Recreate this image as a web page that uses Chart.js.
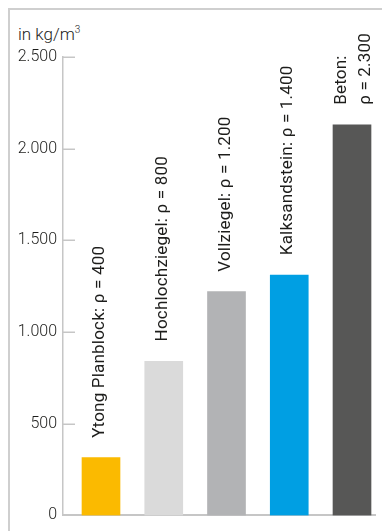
<!DOCTYPE html>
<html>
<head>
<meta charset="utf-8">
<script src="https://cdn.jsdelivr.net/npm/chart.js@4/dist/chart.umd.min.js"></script>
<style>
  html, body { margin: 0; padding: 0; background: #fff; }
  #wrap { position: relative; width: 382px; height: 531px; overflow: hidden; }
  #frame { position: absolute; left: 8px; top: 8px; width: 400px; height: 560px;
           border-left: 2px solid #cfcfcf; border-top: 2px solid #cfcfcf; box-sizing: border-box; }
  #unit { position: absolute; left: 18px; top: 24px; font-family: Roboto, sans-serif; font-weight: 300;
          font-size: 17px; color: #1d1d1b; line-height: 20px; }
  #unit sup { font-size: 10px; vertical-align: 7px; line-height: 0; }
  canvas { position: absolute; left: 0; top: 0; }
</style>
</head>
<body>
<div id="wrap">
  <div id="frame"></div>
  <div id="unit">in kg/m<sup>3</sup></div>
  <canvas id="c" width="382" height="531"></canvas>
</div>
<script>
// ---- data ----
const categories = ['Ytong Planblock', 'Hochlochziegel', 'Vollziegel', 'Kalksandstein', 'Beton'];
const rhoLabels  = ['400', '800', '1.200', '1.400', '2.300'];
const densities  = [315, 840, 1220, 1310, 2130];
const yTicks     = [0, 500, 1000, 1500, 2000, 2500];
// ---------------

const barColors = ['#FBBA00', '#DADADA', '#B2B3B5', '#009FE3', '#575756'];
const FONT = 'Roboto, sans-serif';
const TEXT = '#1d1d1b';
const AXIS = '#c6c6c6';

function fmt(v) { return String(v).replace(/\B(?=(\d{3})+(?!\d))/g, '.'); }

const labelLines = categories.map((c, i) =>
  i === categories.length - 1 ? [c + ':', 'ρ = ' + rhoLabels[i]] : [c + ': ρ = ' + rhoLabels[i]]);

const barLabels = {
  id: 'barLabels',
  afterDatasetsDraw(chart) {
    const ctx = chart.ctx;
    const meta = chart.getDatasetMeta(0);
    ctx.save();
    ctx.fillStyle = TEXT;
    ctx.font = '400 17px ' + FONT;
    if ('letterSpacing' in ctx) ctx.letterSpacing = '0.2px';
    meta.data.forEach((bar, i) => {
      const lines = labelLines[i];
      const offs = lines.length === 1 ? [3] : [-6, 18];
      ctx.save();
      ctx.translate(bar.x, bar.y - 20);
      ctx.rotate(-Math.PI / 2);
      ctx.textAlign = 'left';
      ctx.textBaseline = 'alphabetic';
      lines.forEach((ln, k) => ctx.fillText(ln, 0, offs[k]));
      ctx.restore();
    });
    ctx.restore();
  }
};

const innerTicks = {
  id: 'innerTicks',
  afterDraw(chart) {
    const y = chart.scales.y;
    const ctx = chart.ctx;
    const x0 = chart.chartArea.left;
    ctx.save();
    ctx.strokeStyle = AXIS;
    ctx.lineWidth = 1.5;
    y.ticks.forEach((t, i) => {
      const py = Math.round(y.getPixelForTick(i)) + 0.25;
      ctx.beginPath();
      ctx.moveTo(x0, py);
      ctx.lineTo(x0 + 12, py);
      ctx.stroke();
    });
    ctx.restore();
  }
};

new Chart(document.getElementById('c'), {
  type: 'bar',
  data: {
    datasets: [{
      data: densities.map((v, i) => ({ x: i, y: v })),
      backgroundColor: barColors,
      borderWidth: 0,
      barThickness: 38
    }]
  },
  options: {
    responsive: false,
    animation: false,
    devicePixelRatio: 1,
    layout: { padding: { left: 16, top: 57, right: 7, bottom: 13 } },
    plugins: { legend: { display: false }, tooltip: { enabled: false }, title: { display: false } },
    scales: {
      x: {
        type: 'linear',
        offset: false,
        bounds: 'data',
        min: -0.6056,
        max: 4.3665,
        grid: { display: false, drawTicks: false, offset: false },
        border: { display: true, color: AXIS, width: 2 },
        ticks: { display: false },
        afterFit(s) { s.height = 0; }
      },
      y: {
        min: 0,
        max: 2500,
        afterBuildTicks(s) { s.ticks = yTicks.map(v => ({ value: v })); },
        grid: { display: false, drawTicks: false },
        border: { display: true, color: AXIS, width: 1.5 },
        ticks: {
          padding: 6,
          color: TEXT,
          font: { family: FONT, size: 16, weight: '300' },
          callback: v => fmt(v)
        },
        afterFit(s) { s.width = 47; }
      }
    }
  },
  plugins: [barLabels, innerTicks]
});
</script>
</body>
</html>
